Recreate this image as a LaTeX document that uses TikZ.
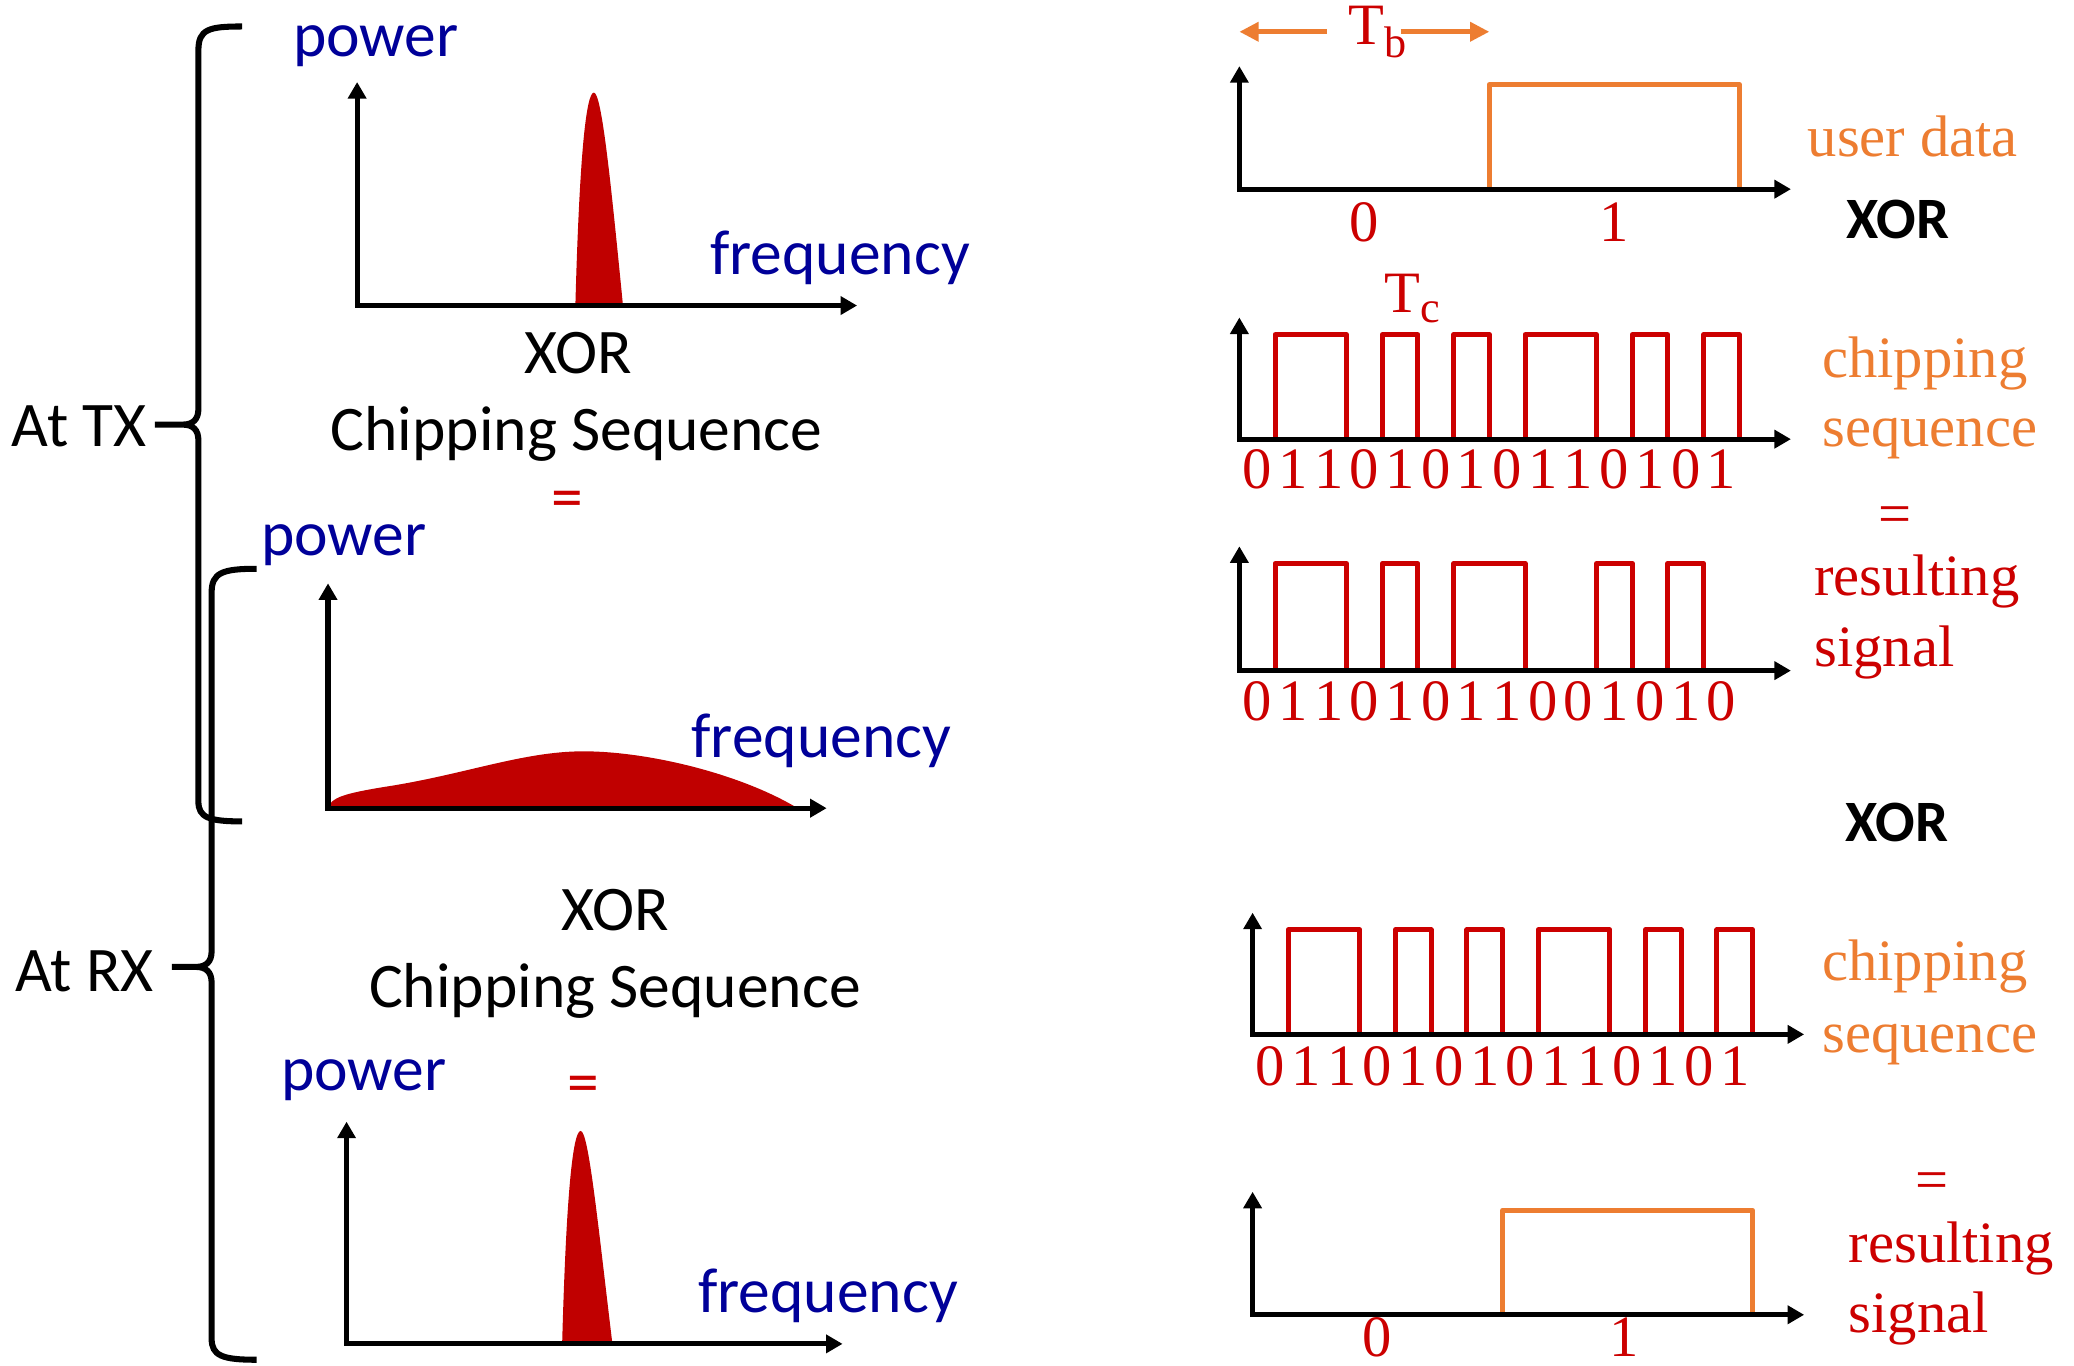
\documentclass[tikz,border=0pt]{standalone}
\usepackage{fontspec}
\setmainfont{Liberation Serif}
\newfontfamily\calfont{Carlito}
\usetikzlibrary{arrows.meta}
\definecolor{dblue}{RGB}{0,0,153}
\definecolor{pkred}{RGB}{192,0,0}
\definecolor{sigred}{RGB}{204,0,0}
\definecolor{org}{RGB}{237,125,49}
\begin{document}
\begin{tikzpicture}[x=0.01cm,y=-0.01cm,
 cal/.style={font=\calfont\fontsize{13.66}{16.4}\selectfont, inner sep=0pt},
 calb/.style={font=\calfont\bfseries\fontsize{12.6}{15}\selectfont, inner sep=0pt},
 tnr/.style={font=\fontsize{12.6}{15}\selectfont, inner sep=0pt},
 blu/.style={cal, text=dblue},
 axisline/.style={line width=1.1pt, {Triangle[length=1.25mm,width=1.35mm]}-{Triangle[length=1.25mm,width=1.35mm]}},
 wave/.style={line width=1.1pt, draw=sigred, line join=round},
 datawave/.style={line width=1.1pt, draw=org, line join=round},
 tbarrow/.style={line width=1.1pt, draw=org, -{Triangle[length=1.45mm,width=1.4mm]}},
 bracel/.style={line width=1.3pt},
 peak/.style={fill=pkred},
 digit/.style={tnr, text=sigred}
]
\fill[white] (0,0) rectangle (1568,1032);
\useasboundingbox (0,0) rectangle (1568,1032);

% ---------------- left braces
\draw[bracel] (183,20) .. controls (158,20) and (150,22) .. (150,38) -- (150,309)
  .. controls (150,317) and (146,321) .. (138,321) -- (117,321) -- (138,321) .. controls (146,321) and (150,325) .. (150,333)
  -- (150,606) .. controls (150,618) and (158,621) .. (183,621);
\draw[bracel] (194,430) .. controls (168,430) and (160,433) .. (160,448) -- (160,719)
  .. controls (160,727) and (156,731) .. (148,731) -- (130,731) -- (148,731) .. controls (156,731) and (160,735) .. (160,743)
  -- (160,1012) .. controls (160,1025) and (168,1028) .. (194,1028);
\node[cal] (attx) at (60,322) {At TX};
\node[cal] (atrx) at (64,734) {At RX};

% ---------------- spectrum 1
\coordinate (o1) at (270,231);
\coordinate (y1) at (270,62);
\coordinate (x1) at (648,231);
\fill[peak] (435,231) .. controls (438,120) and (443,70) .. (449,70) .. controls (455,70) and (462,140) .. (471,231) -- cycle;
\draw[axisline] (y1) -- (o1) -- (x1);
\node[blu] (pow1) at (284,35) {power};
\node[blu] (frq1) at (635,195) {frequency};
\node[cal] (xor1) at (437,267) {XOR};
\node[cal] (chs1) at (436,328) {Chipping Sequence};
\node[cal, text=sigred] (eq1) at (429,382) {=};

% ---------------- spectrum 2
\coordinate (o2) at (248,611);
\coordinate (y2) at (248,441);
\coordinate (x2) at (625,611);
\fill[peak] (248,611) .. controls (250,603) and (260,600) .. (290,595) .. controls (350,586) and (395,568) .. (441,568) .. controls (490,568) and (560,585) .. (603,611) -- cycle;
\draw[axisline] (y2) -- (o2) -- (x2);
\node[blu] (pow2) at (260,412) {power};
\node[blu] (frq2) at (621,560) {frequency};
\node[cal] (xor2) at (465,688) {XOR};
\node[cal] (chs2) at (465,749) {Chipping Sequence};

% ---------------- spectrum 3
\coordinate (o3) at (262,1016);
\coordinate (y3) at (262,848);
\coordinate (x3) at (637,1016);
\begin{scope}[shift={(-10,785)}]
\fill[peak] (435,231) .. controls (438,120) and (443,70) .. (449,70) .. controls (455,70) and (462,140) .. (473,231) -- cycle;
\end{scope}
\draw[axisline] (y3) -- (o3) -- (x3);
\node[blu] (pow3) at (275,817) {power};
\node[cal, text=sigred] (eq3) at (441,824) {=};
\node[blu] (frq3) at (626,980) {frequency};

% ---------------- panel A : user data
\coordinate (tbL) at (937,24);
\coordinate (tbR) at (1126,24);
\coordinate (tbLs) at (1003,24);
\coordinate (tbRs) at (1059,24);
\draw[tbarrow] (tbLs) -- (tbL);
\draw[tbarrow] (tbRs) -- (tbR);
\node[tnr, text=sigred, anchor=base west] (Tb) at (1019,34) {T\raisebox{-2.6pt}{\fontsize{9.5}{9.5}\selectfont b}};
\coordinate (oA) at (937,143);
\coordinate (yA) at (937,50);
\coordinate (xA) at (1354,143);
\draw[datawave] (1126,143) -- (1126,64) -- (1315,64) -- (1315,143);
\draw[axisline] (yA) -- (oA) -- (xA);
\node[digit] (a0) at (1031,168) {0};
\node[digit] (a1) at (1220,168) {1};
\node[tnr, text=org, anchor=base west] (ud) at (1366,118) {user data};
\node[calb] (xorA) at (1435,166) {XOR};

% ---------------- panel B : chipping sequence (TX)
\coordinate (oB) at (937,332);
\coordinate (yB) at (937,240);
\coordinate (xB) at (1354,332);
\draw[wave] (937,332) -- (964,332) -- (964,253) -- (1018,253) -- (1018,332) -- (1045,332) -- (1045,253) -- (1072,253) -- (1072,332) -- (1099,332) -- (1099,253) -- (1126,253) -- (1126,332) -- (1153,332) -- (1153,253) -- (1207,253) -- (1207,332) -- (1234,332) -- (1234,253) -- (1261,253) -- (1261,332) -- (1288,332) -- (1288,253) -- (1315,253) -- (1315,332);
\draw[axisline] (yB) -- (oB) -- (xB);
\node[tnr, text=sigred, anchor=base west] (Tc) at (1046,236) {T\raisebox{-2.3pt}{\fontsize{9.5}{9.5}\selectfont c}};
\foreach \d [count=\i from 0] in {0,1,1,0,1,0,1,0,1,1,0,1,0,1}
  \node[digit] (cb\i) at ({950.5+27*\i},355) {\d};
\node[tnr, text=org, anchor=base west] (chB1) at (1377,285.5) {chipping};
\node[tnr, text=org, anchor=base west] (chB2) at (1377,337.5) {sequence};
\node[tnr, text=sigred] (eqB) at (1433,393) {=};

% ---------------- panel C : resulting signal (TX)
\coordinate (oC) at (937,507);
\coordinate (yC) at (937,413);
\coordinate (xC) at (1354,507);
\draw[wave] (937,507) -- (964,507) -- (964,426) -- (1018,426) -- (1018,507) -- (1045,507) -- (1045,426) -- (1072,426) -- (1072,507) -- (1099,507) -- (1099,426) -- (1153,426) -- (1153,507) -- (1207,507) -- (1207,426) -- (1234,426) -- (1234,507) -- (1261,507) -- (1261,426) -- (1288,426) -- (1288,507) -- (1315,507);
\draw[axisline] (yC) -- (oC) -- (xC);
\foreach \d [count=\i from 0] in {0,1,1,0,1,0,1,1,0,0,1,0,1,0}
  \node[digit] (rc\i) at ({950.5+27*\i},530) {\d};
\node[tnr, text=sigred, anchor=base west] (rsC1) at (1371,450.5) {resulting};
\node[tnr, text=sigred, anchor=base west] (rsC2) at (1371,503.5) {signal};

\node[calb] (xorD) at (1434,622) {XOR};

% ---------------- panel D : chipping sequence (RX)
\begin{scope}[shift={(10,450)}]
\coordinate (oD) at (937,332);
\coordinate (yD) at (937,240);
\coordinate (xD) at (1354,332);
\draw[wave] (937,332) -- (964,332) -- (964,253) -- (1018,253) -- (1018,332) -- (1045,332) -- (1045,253) -- (1072,253) -- (1072,332) -- (1099,332) -- (1099,253) -- (1126,253) -- (1126,332) -- (1153,332) -- (1153,253) -- (1207,253) -- (1207,332) -- (1234,332) -- (1234,253) -- (1261,253) -- (1261,332) -- (1288,332) -- (1288,253) -- (1315,253) -- (1315,332);
\draw[axisline] (yD) -- (oD) -- (xD);
\foreach \d [count=\i from 0] in {0,1,1,0,1,0,1,0,1,1,0,1,0,1}
  \node[digit] (cd\i) at ({950.5+27*\i},356) {\d};
\end{scope}
\node[tnr, text=org, anchor=base west] (chD1) at (1377,741.5) {chipping};
\node[tnr, text=org, anchor=base west] (chD2) at (1377,795.5) {sequence};

% ---------------- panel E : recovered data (RX)
\node[tnr, text=sigred] (eqE) at (1461,897) {=};
\begin{scope}[shift={(10,851)}]
\coordinate (oE) at (937,143);
\coordinate (yE) at (937,50);
\coordinate (xE) at (1354,143);
\draw[datawave] (1126,143) -- (1126,64) -- (1315,64) -- (1315,143);
\draw[axisline] (yE) -- (oE) -- (xE);
\node[digit] (e0) at (1031,160) {0};
\node[digit] (e1) at (1218,160) {1};
\end{scope}
\node[tnr, text=sigred, anchor=base west] (rsE1) at (1397,954.5) {resulting};
\node[tnr, text=sigred, anchor=base west] (rsE2) at (1397,1007.5) {signal};
\end{tikzpicture}
\end{document}
